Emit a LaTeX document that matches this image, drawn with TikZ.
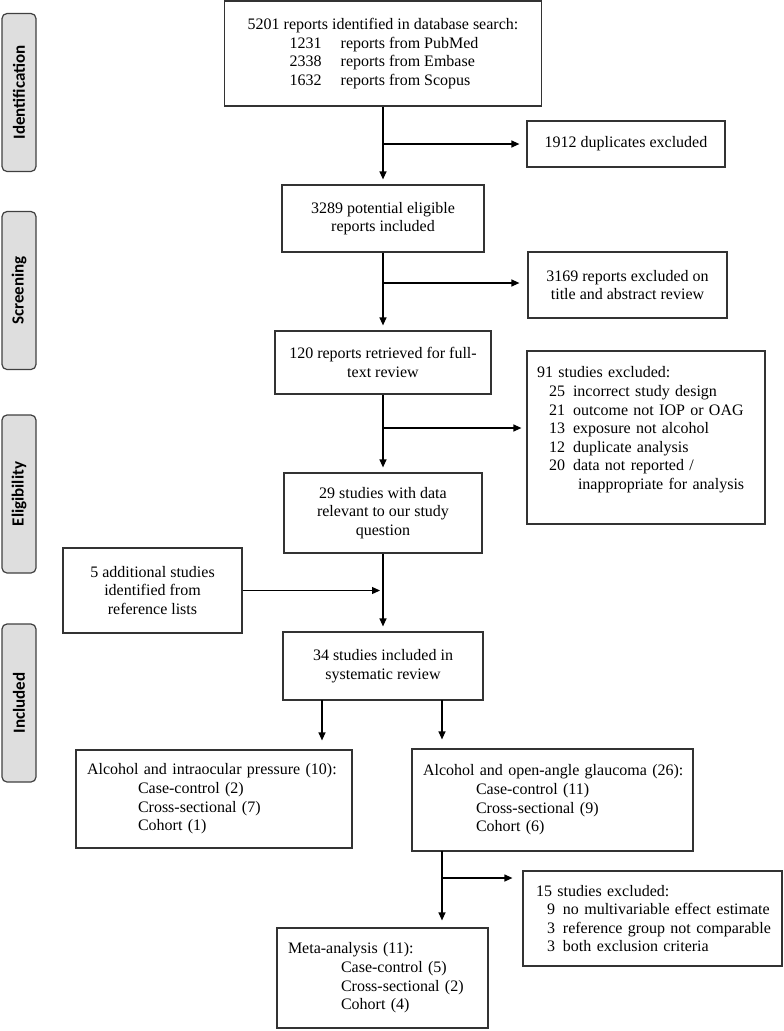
\documentclass[tikz,border=0pt]{standalone}
\usepackage{fontspec}
\setmainfont{Liberation Serif}
\newfontfamily\stagefont{Carlito}
\usetikzlibrary{arrows.meta}

\tikzstyle{box} = [draw=black!80, line width=1.2pt, fill=white, inner sep=0pt, font=\fontsize{16}{18.6}\selectfont]
\tikzstyle{stage} = [draw=black!75, line width=1.2pt, fill=black!13, rounded corners=5pt, rotate=90, minimum width=158pt, minimum height=34pt, inner sep=0pt, font=\stagefont\bfseries\fontsize{17}{20}\selectfont]
\tikzstyle{line} = [draw, line width=1.2pt]
\tikzstyle{arrow} = [line, -{Triangle[length=8pt,width=7pt]}, shorten >=5pt]

\newcommand{\exrow}[3]{\mbox{\hspace*{#1}#2\hspace{8pt}#3}}

\begin{document}
\begin{tikzpicture}[x=1pt,y=1pt]
\useasboundingbox (0,0) rectangle (784,-1031);
%stages
\node[stage] (ident) at (19,-92.5) {Identification};
\node[stage] (screen) at (19,-290.5) {Screening};
\node[stage] (elig) at (19,-494) {Eligibility};
\node[stage] (incl) at (19,-703) {Included};

%main column
\node[box, align=left, minimum width=317pt, minimum height=105pt] (search) at (383,-53.5) {5201 reports identified in database search:\\
\hspace*{42pt}\makebox[51pt][l]{1231}reports from PubMed\\
\hspace*{42pt}\makebox[51pt][l]{2338}reports from Embase\\
\hspace*{42pt}\makebox[51pt][l]{1632}reports from Scopus};
\node[box, align=center, minimum width=202pt, minimum height=67pt] (pot) at (383,-218.5) {3289 potential eligible\\reports included};
\node[box, align=center, minimum width=216pt, minimum height=63pt] (full) at (383,-362.5) {120 reports retrieved for full-\\text review};
\node[box, align=center, minimum width=198pt, minimum height=80pt] (rel29) at (383,-513) {29 studies with data\\relevant to our study\\question};
\node[box, align=center, minimum width=200pt, minimum height=68pt] (sys34) at (383,-666) {34 studies included in\\systematic review};

%excluded
\node[box, minimum width=198pt, minimum height=46pt] (dup) at (626,-144) {1912 duplicates excluded};
\node[box, align=center, minimum width=199pt, minimum height=66pt] (scr) at (627.5,-285) {3169 reports excluded on\\title and abstract review};
\node[box, align=left, text width=218pt, inner xsep=10pt, minimum height=173pt] (ex91) at (646,-437.5) {91 studies excluded:\\
\exrow{12pt}{25}{incorrect study design}\\
\exrow{12pt}{21}{outcome not IOP or OAG}\\
\exrow{12pt}{13}{exposure not alcohol}\\
\exrow{12pt}{12}{duplicate analysis}\\
\exrow{12pt}{20}{data not reported /}\\
\mbox{\hspace*{41pt}inappropriate for analysis}\\
\mbox{}};
\node[box, align=center, minimum width=179pt, minimum height=85pt] (add5) at (152.5,-590.5) {5 additional studies\\identified from\\reference lists};

%outcomes
\node[box, align=left, text width=254pt, inner xsep=11pt, minimum height=98pt] (iop) at (214,-799) {\mbox{Alcohol and intraocular pressure (10):}\\
\hspace*{51pt}Case-control (2)\\
\hspace*{51pt}Cross-sectional (7)\\
\hspace*{51pt}Cohort (1)};
\node[box, align=left, text width=259pt, inner xsep=11pt, minimum height=102pt] (oag) at (552.5,-800) {\mbox{Alcohol and open-angle glaucoma (26):}\\
\hspace*{53pt}Case-control (11)\\
\hspace*{53pt}Cross-sectional (9)\\
\hspace*{53pt}Cohort (6)};
\node[box, align=left, text width=233pt, inner xsep=13pt, minimum height=95pt] (ex15) at (652.5,-918.5) {15 studies excluded:\\
\exrow{11pt}{9}{no multivariable effect estimate}\\
\exrow{11pt}{3}{reference group not comparable}\\
\exrow{11pt}{3}{both exclusion criteria}};
\node[box, align=left, text width=189pt, inner xsep=11pt, minimum height=100pt] (meta) at (382.5,-978) {Meta-analysis (11):\\
\hspace*{53pt}Case-control (5)\\
\hspace*{53pt}Cross-sectional (2)\\
\hspace*{53pt}Cohort (4)};

%arrows
\coordinate (b1) at (383,-144);
\coordinate (b2) at (383,-283);
\coordinate (b3) at (383,-428);
\coordinate (s1) at (322,-700);
\coordinate (s2) at (442,-700);
\coordinate (o1) at (442,-851);
\coordinate (b5) at (442,-878);
\draw[arrow] (search.south) -- (pot.north);
\draw[arrow, shorten >=7pt] (b1) -- (b1 -| dup.west);
\draw[arrow] (pot.south) -- (full.north);
\draw[arrow, shorten >=8pt] (b2) -- (b2 -| scr.west);
\draw[arrow] (full.south) -- (rel29.north);
\draw[arrow] (b3) -- (b3 -| ex91.west);
\draw[arrow] (rel29.south) -- (sys34.north);
\draw[arrow, shorten >=3pt] (add5.east) -- (add5.east -| rel29.south);
\draw[arrow, shorten >=9pt] (s1) -- (s1 |- iop.north);
\draw[arrow, shorten >=9pt] (s2) -- (s2 |- oag.north);
\draw[arrow, shorten >=7pt] (o1) -- (o1 |- meta.north);
\draw[arrow, shorten >=10pt] (b5) -- (b5 -| ex15.west);
\end{tikzpicture}
\end{document}
